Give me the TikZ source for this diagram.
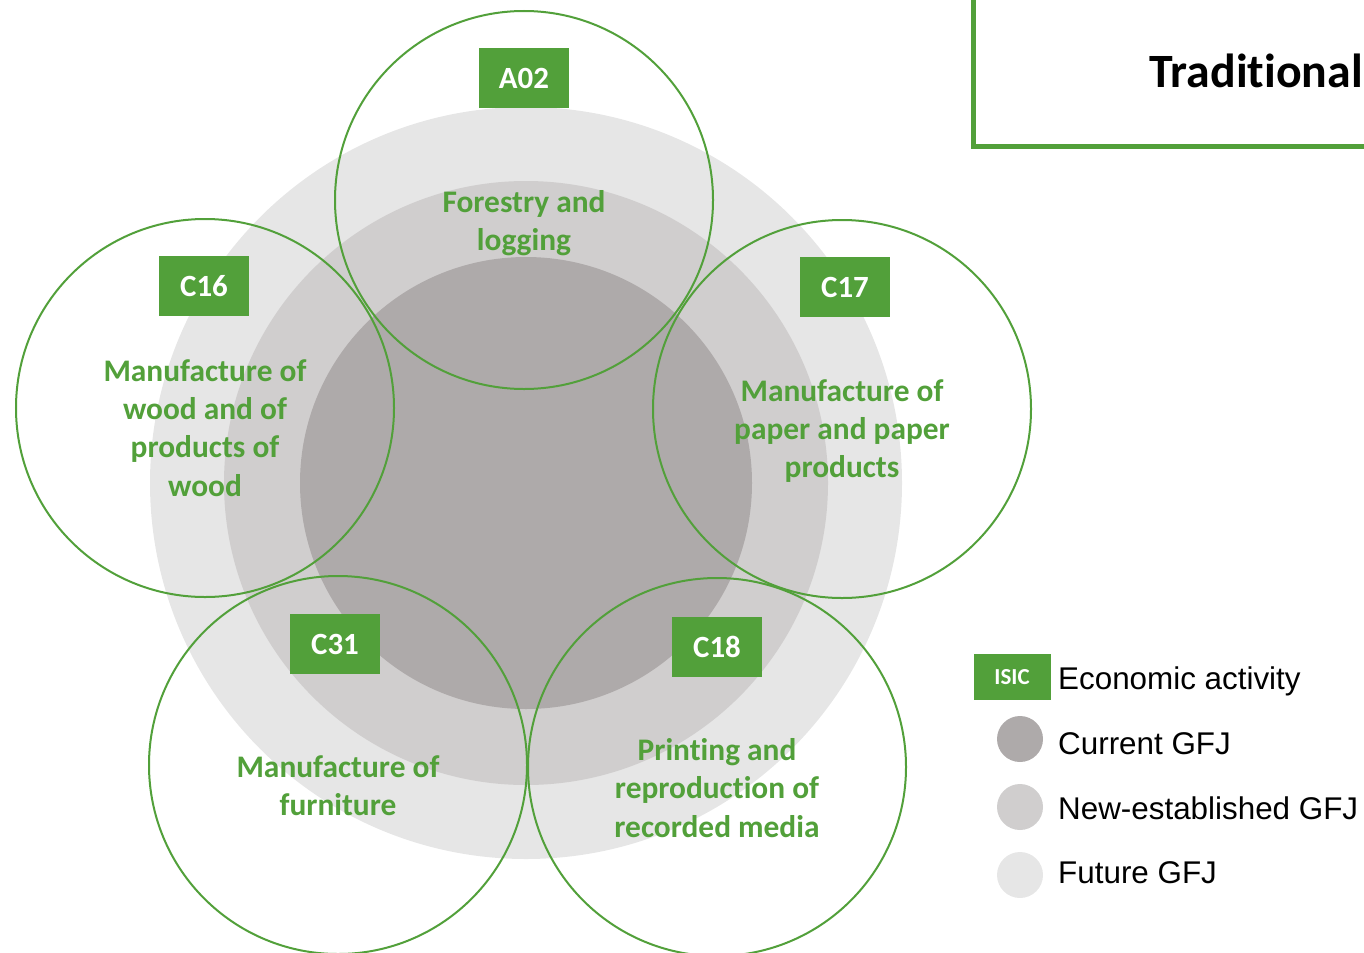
\documentclass[tikz,border=0pt]{standalone}
\usepackage{fontspec}
\setmainfont{Carlito}[Ligatures={NoCommon}]
\newfontfamily\arialfont{Liberation Sans}
\definecolor{gfgreen}{RGB}{82,160,58}
\definecolor{gjfut}{RGB}{230,230,230}
\definecolor{gjnew}{RGB}{208,206,206}
\definecolor{gjcur}{RGB}{174,170,170}
\tikzset{
  sector/.style={draw=gfgreen, line width=2bp, circle, minimum size=378bp, inner sep=0pt},
  codebox/.style={fill=gfgreen, text=white, font=\bfseries\fontsize{31}{36}\selectfont, minimum width=90bp, minimum height=60bp, inner sep=0pt},
  actlabel/.style={text=gfgreen, align=center, font=\bfseries\fontsize{31.5}{38.5}\selectfont, inner sep=0pt},
  legtext/.style={anchor=west, font=\arialfont\fontsize{31.5}{36}\selectfont, inner sep=0pt},
  legdot/.style={circle, minimum size=46bp, inner sep=0pt}
}
\begin{document}
\begin{tikzpicture}[x=1bp,y=-1bp]
\useasboundingbox (0,0) rectangle (1364,952);
% concentric GFJ circles
\fill[gjfut] (526,483) circle (376);
\fill[gjnew] (526,483) circle (302);
\fill[gjcur] (526,483) circle (226);
% sector circles
\node[sector] (sA02) at (524,200) {};
\node[sector] (sC16) at (205,408) {};
\node[sector] (sC17) at (842,409) {};
\node[sector] (sC31) at (338,765) {};
\node[sector] (sC18) at (717,767) {};
% code boxes
\node[codebox] (bA02) at (524,78) {A02};
\node[codebox] (bC16) at (204,286) {C16};
\node[codebox] (bC17) at (845,287) {C17};
\node[codebox] (bC31) at (335,644) {C31};
\node[codebox] (bC18) at (717,647) {C18};
% activity labels
\node[actlabel] (tA02) at (524,223) {Forestry and\\logging};
\node[actlabel] (tC16) at (205,428) {Manufacture of\\wood and of\\products of\\wood};
\node[actlabel] (tC17) at (842,431) {Manufacture of\\paper and paper\\products};
\node[actlabel] (tC31) at (338,786) {Manufacture of\\furniture};
\node[actlabel] (tC18) at (717,788) {Printing and\\reproduction of\\recorded media};
% title frame
\draw[gfgreen, line width=5bp] (973.5,0) -- (973.5,146.5) -- (1364,146.5);
\node[anchor=base east, font=\bfseries\fontsize{48}{56}\selectfont, inner sep=0pt] (title) at (1363,87) {Traditional};
% legend
\node[fill=gfgreen, text=white, font=\bfseries\fontsize{23}{26}\selectfont, minimum width=77bp, minimum height=46bp, inner sep=0pt] (lisic) at (1012,677) {ISIC};
\node[legtext] (lt1) at (1058,681) {Economic activity};
\node[legdot, fill=gjcur] (ld2) at (1020,739) {};
\node[legtext] (lt2) at (1058,744) {Current GFJ};
\node[legdot, fill=gjnew] (ld3) at (1020,807) {};
\node[legtext] (lt3) at (1058,808) {New-established GFJ};
\node[legdot, fill=gjfut] (ld4) at (1020,875) {};
\node[legtext] (lt4) at (1058,873) {Future GFJ};
\end{tikzpicture}
\end{document}
